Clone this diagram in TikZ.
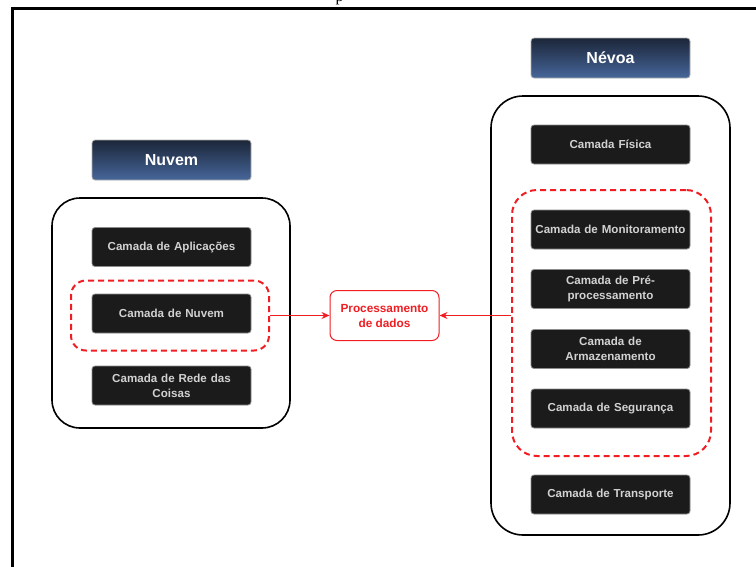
\documentclass[tikz,border=0pt]{standalone}
\usepackage{fontspec}
\setmainfont{Liberation Sans}
\newfontfamily\capfont{Liberation Serif}
\usetikzlibrary{arrows.meta}

\definecolor{navytop}{HTML}{1C2639}
\definecolor{navybot}{HTML}{46669A}
\definecolor{layerfill}{HTML}{1B1B1B}
\definecolor{layertext}{HTML}{D2D2D2}
\definecolor{layeredge}{HTML}{8C8C8C}
\definecolor{flowred}{HTML}{F01E23}

\tikzset{
  header/.style={draw=layeredge!70, line width=0.8pt, rounded corners=3pt,
    top color=navytop, bottom color=navybot,
    minimum width=159pt, minimum height=40pt, inner sep=0pt,
    text=white, font=\bfseries\fontsize{16}{18}\selectfont},
  layer/.style={draw=layeredge, line width=0.8pt, rounded corners=3pt,
    fill=layerfill, minimum width=159pt, minimum height=39pt, inner sep=0pt,
    text=layertext, align=center, text width=155pt,
    font=\bfseries\fontsize{11.6}{15}\selectfont},
  container/.style={draw=black, line width=1.6pt, inner sep=0pt},
  group/.style={draw=flowred, line width=2pt, dash pattern=on 6pt off 4pt,
    inner sep=0pt},
  process/.style={draw=flowred, line width=1pt, rounded corners=7pt, fill=white,
    minimum width=109pt, minimum height=50pt, inner sep=0pt, align=center,
    text=flowred, font=\bfseries\fontsize{11.8}{15}\selectfont},
  flow/.style={draw=flowred, line width=1.2pt,
    -{Stealth[length=8pt,width=7pt]}}
}

\begin{document}
\begin{tikzpicture}[x=1pt, y=-1pt]
  \useasboundingbox (0,0) rectangle (756,566);

  % page frame and the clipped caption glyph above it
  \node[anchor=base, inner sep=0pt, font=\capfont\fontsize{16}{18}\selectfont]
    (capglyph) at (339.5,1.2) {p};
  \draw[line width=3pt] (12.5,570) coordinate (frameBL)
    -- (12.5,8.5) coordinate (frameTL) -- (760,8.5) coordinate (frameTR);

  % ---- Nuvem ----
  \node[container, rounded corners=28pt, minimum width=238pt, minimum height=230pt]
    (cloud) at (171,313) {};
  \node[header] (cloudhdr) at (171.5,160) {Nuvem};
  \node[layer] (app) at (171.5,247) {Camada de Aplicações};
  \node[group, rounded corners=15pt, minimum width=198pt, minimum height=70pt]
    (cloudgrp) at (170,315.5) {};
  \node[layer] (cloudlayer) at (171.5,313.5) {Camada de Nuvem};
  \node[layer] (net) at (171.5,385.5) {Camada de Rede das\\Coisas};

  % ---- Névoa ----
  \node[container, rounded corners=32pt, minimum width=239pt, minimum height=439pt]
    (fog) at (610.5,315.5) {};
  \node[header] (foghdr) at (610.5,58) {Névoa};
  \node[layer] (phys) at (610.5,144.5) {Camada Física};
  \node[group, rounded corners=25pt, minimum width=199pt, minimum height=266pt]
    (foggrp) at (611.5,323) {};
  \node[layer] (mon) at (610.5,229.5) {Camada de Monitoramento};
  \node[layer] (pre) at (610.5,289) {Camada de Pré-\\processamento};
  \node[layer] (store) at (610.5,349) {Camada de\\Armazenamento};
  \node[layer] (sec) at (610.5,408.5) {Camada de Segurança};
  \node[layer] (trans) at (610.5,494.5) {Camada de Transporte};

  % ---- processing ----
  \node[process] (proc) at (384.5,315.5) {Processamento\\de dados};

  \draw[flow] (cloudgrp.east) -- (proc.west);
  \draw[flow] (foggrp.west |- proc.east) -- (proc.east);
\end{tikzpicture}
\end{document}
